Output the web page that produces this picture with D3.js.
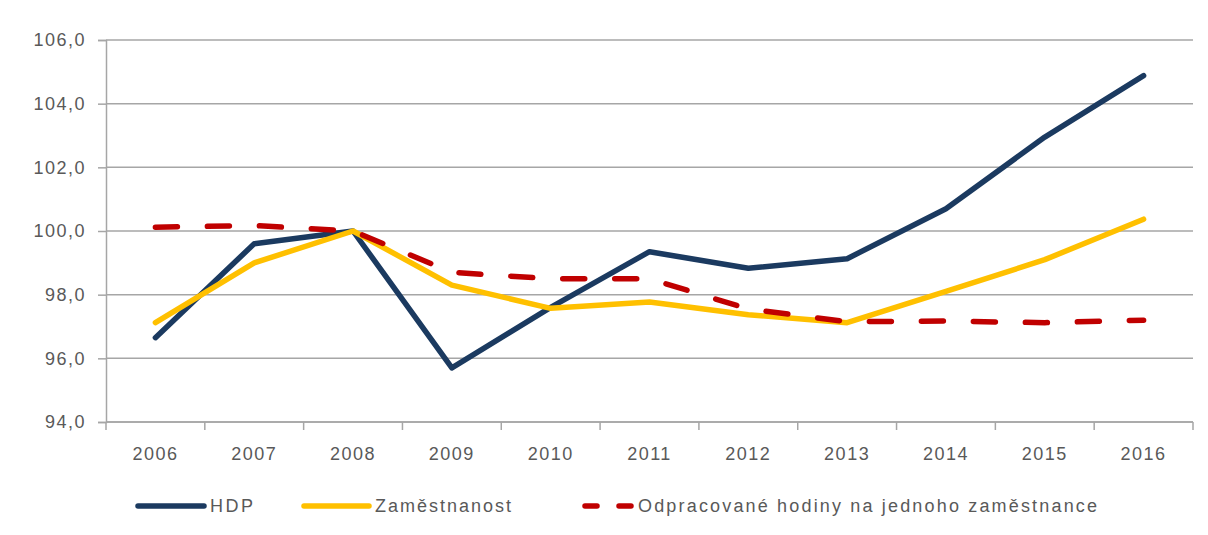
<!DOCTYPE html>
<html>
<head>
<meta charset="utf-8">
<script src="https://cdn.jsdelivr.net/npm/d3@7"></script>
<style>
  body { margin: 0; background: #fff; }
  text { font-family: "Liberation Sans", Arial, sans-serif; fill: #595959; }
</style>
</head>
<body>
<div id="chart"></div>
<script>
var years = ["2006", "2007", "2008", "2009", "2010", "2011", "2012", "2013", "2014", "2015", "2016"]
var hdp = [96.65, 99.6, 100.0, 95.7, 97.6, 99.35, 98.83, 99.13, 100.7, 102.95, 104.88]
var zamestnanost = [97.12, 99.0, 100.0, 98.3, 97.57, 97.77, 97.37, 97.12, 98.1, 99.1, 100.37]
var hodiny = [100.12, 100.17, 100.0, 98.7, 98.5, 98.5, 97.55, 97.15, 97.17, 97.12, 97.2]
var yTicks = [94, 96, 98, 100, 102, 104, 106]

var series = [
    { name: "HDP", values: hdp, color: "#1b3a60", dash: null },
    { name: "Zaměstnanost", values: zamestnanost, color: "#ffc000", dash: null },
    { name: "Odpracované hodiny na jednoho zaměstnance", values: hodiny, color: "#c00000", dash: "22,30" }
]

var width = 1208, height = 535
var plotLeft = 106, plotRight = 1193, plotTop = 40, plotBottom = 422

var svg = d3.select("#chart")
    .append("svg")
    .attr("width", width)
    .attr("height", height)

var x = d3.scaleBand().domain(years).range([plotLeft, plotRight])
var y = d3.scaleLinear().domain([94, 106]).range([plotBottom, plotTop])

// gridlines
svg.append("g")
    .selectAll("line")
    .data(yTicks)
    .enter()
    .append("line")
    .attr("x1", plotLeft)
    .attr("x2", plotRight)
    .attr("y1", (d) => y(d))
    .attr("y2", (d) => y(d))
    .style("stroke", "#a6a6a6")
    .style("stroke-width", 1.5)

// y axis
var yAxis = svg.append("g")
    .attr("transform", `translate(${plotLeft},0)`)
    .call(d3.axisLeft(y).tickValues(yTicks).tickSize(8).tickPadding(12)
        .tickFormat((d) => d3.format(".1f")(d).replace(".", ",")))
yAxis.select(".domain").style("stroke", "#a6a6a6").style("stroke-width", 1.5)
yAxis.selectAll(".tick line").style("stroke", "#a6a6a6").style("stroke-width", 1.5)
yAxis.selectAll("text")
    .style("font-size", "18px")
    .style("letter-spacing", "1.5px")
    .style("font-family", "Liberation Sans, Arial, sans-serif")
    .style("fill", "#595959")

// x axis, ticks between categories
var xAxis = svg.append("g")
    .attr("transform", `translate(0,${plotBottom})`)
xAxis.append("line")
    .attr("x1", plotLeft)
    .attr("x2", plotRight)
    .style("stroke", "#a6a6a6")
    .style("stroke-width", 1.5)
xAxis.selectAll(".sep")
    .data(years.concat(["end"]))
    .enter()
    .append("line")
    .attr("x1", (d, i) => plotLeft + i * x.step())
    .attr("x2", (d, i) => plotLeft + i * x.step())
    .attr("y1", 0)
    .attr("y2", 8)
    .style("stroke", "#a6a6a6")
    .style("stroke-width", 1.5)
xAxis.selectAll(".lbl")
    .data(years)
    .enter()
    .append("text")
    .attr("x", (d) => x(d) + x.bandwidth() / 2)
    .attr("y", 38)
    .attr("text-anchor", "middle")
    .style("font-size", "18px")
    .style("letter-spacing", "1.5px")
    .text((d) => d)

// lines
var line = d3.line()
    .x((d, i) => x(years[i]) + x.bandwidth() / 2)
    .y((d) => y(d))

svg.append("g")
    .selectAll("path")
    .data(series)
    .enter()
    .append("path")
    .attr("d", (s) => line(s.values))
    .style("fill", "none")
    .style("stroke", (s) => s.color)
    .style("stroke-width", 5.5)
    .style("stroke-linejoin", "round")
    .style("stroke-linecap", "round")
    .style("stroke-dasharray", (s) => s.dash)

// legend
var legendPos = [
    { x1: 138, x2: 204, tx: 210, tl: 43 },
    { x1: 304, x2: 369, tx: 375, tl: 136 },
    { x1: 585, x2: 633, tx: 638, tl: 459 }
]
var legend = svg.append("g")
    .selectAll("g")
    .data(series)
    .enter()
    .append("g")
legend.append("line")
    .attr("x1", (s, i) => legendPos[i].x1)
    .attr("x2", (s, i) => legendPos[i].x2)
    .attr("y1", 506)
    .attr("y2", 506)
    .style("stroke", (s) => s.color)
    .style("stroke-width", 5.5)
    .style("stroke-linecap", "round")
    .style("stroke-dasharray", (s) => s.dash ? "12,22" : null)
legend.append("text")
    .attr("x", (s, i) => legendPos[i].tx)
    .attr("y", 512)
    .attr("textLength", (s, i) => legendPos[i].tl)
    .attr("lengthAdjust", "spacing")
    .style("font-size", "18px")
    .text((s) => s.name)
</script>
</body>
</html>
